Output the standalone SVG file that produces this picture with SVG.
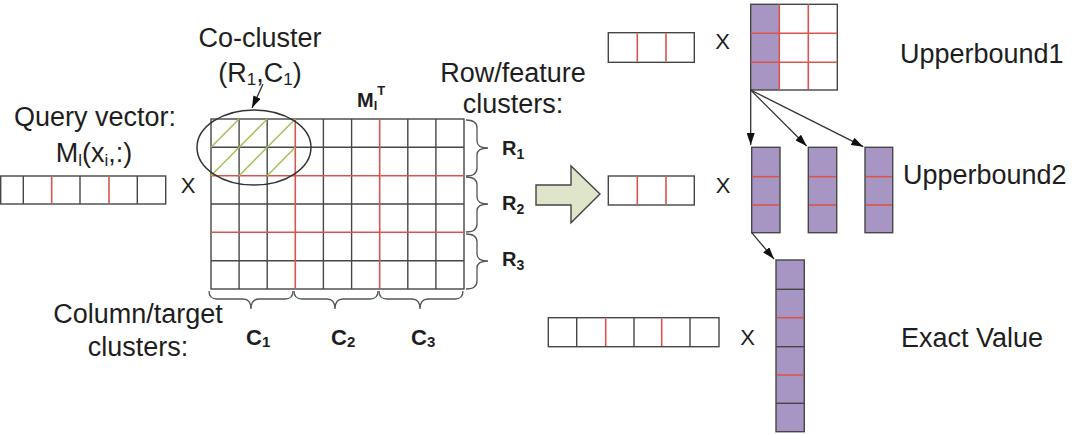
<svg xmlns="http://www.w3.org/2000/svg" width="1077" height="434" viewBox="0 0 1077 434">
<style>
text{font-family:"Liberation Sans",Arial,sans-serif;fill:#1e1e1e}
.lbl{font-size:27px}
.x{font-size:22px}
.b{font-weight:bold}
.g{stroke:#464646;stroke-width:1.4;fill:none}
.r{stroke:#d9554c;stroke-width:1.6;fill:none}
.gr{stroke:#a6c25c;stroke-width:1.6}
.br{stroke:#555;stroke-width:1.3;fill:none}
.pur{fill:#a796c4}
.cn{stroke:#333;stroke-width:1.3;fill:none}
</style>
<defs>
<marker id="ah" viewBox="0 0 12 8" refX="12" refY="4" markerWidth="12" markerHeight="8" markerUnits="userSpaceOnUse" orient="auto">
<path d="M0,0 L12,4 L0,8 z" fill="#111"/>
</marker>
</defs>

<g id="labels-left">
<text class="lbl" x="95" y="126" text-anchor="middle">Query vector:</text>
<text class="lbl" x="94" y="162" text-anchor="middle">M<tspan font-size="17" dy="4">l</tspan><tspan dy="-4">(x</tspan><tspan font-size="17" dy="4">i</tspan><tspan dy="-4">,:)</tspan></text>
<text class="lbl" x="260" y="47" text-anchor="middle">Co-cluster</text>
<text class="lbl" x="260" y="82" text-anchor="middle">(R<tspan font-size="17" dy="3">1</tspan><tspan dy="-3">,C</tspan><tspan font-size="17" dy="3">1</tspan><tspan dy="-3">)</tspan></text>
<text class="lbl" x="513" y="82" text-anchor="middle">Row/feature</text>
<text class="lbl" x="513" y="113" text-anchor="middle">clusters:</text>
<text class="lbl" x="138" y="323" text-anchor="middle">Column/target</text>
<text class="lbl" x="138" y="356" text-anchor="middle">clusters:</text>
<text class="b" font-size="20" x="357" y="107">M<tspan font-size="13" dy="3">l</tspan><tspan font-size="13" dy="-15">T</tspan></text>
</g>

<g id="query-vector">
<rect class="g" x="0.7" y="176" width="165" height="28"/>
<line class="g" x1="23.3" y1="176" x2="23.3" y2="204"/>
<line class="g" x1="80" y1="176" x2="80" y2="204"/>
<line class="g" x1="137.3" y1="176" x2="137.3" y2="204"/>
<line class="r" x1="51.7" y1="177" x2="51.7" y2="203"/>
<line class="r" x1="109" y1="177" x2="109" y2="203"/>
<text class="x" x="188" y="193" text-anchor="middle">X</text>
</g>

<g id="matrix">
<g class="g">
<rect x="211" y="119" width="253" height="170"/>
<line x1="239.1" y1="119" x2="239.1" y2="289"/>
<line x1="267.2" y1="119" x2="267.2" y2="289"/>
<line x1="323.4" y1="119" x2="323.4" y2="289"/>
<line x1="351.6" y1="119" x2="351.6" y2="289"/>
<line x1="407.8" y1="119" x2="407.8" y2="289"/>
<line x1="435.9" y1="119" x2="435.9" y2="289"/>
<line x1="211" y1="147.3" x2="464" y2="147.3"/>
<line x1="211" y1="204" x2="464" y2="204"/>
<line x1="211" y1="260.7" x2="464" y2="260.7"/>
</g>
<g class="r">
<line x1="295.3" y1="119" x2="295.3" y2="289"/>
<line x1="379.7" y1="119" x2="379.7" y2="289"/>
<line x1="211" y1="175.7" x2="464" y2="175.7"/>
<line x1="211" y1="232.3" x2="464" y2="232.3"/>
</g>
<g class="gr">
<line x1="211" y1="147.3" x2="239.1" y2="119"/>
<line x1="239.1" y1="147.3" x2="267.2" y2="119"/>
<line x1="267.2" y1="147.3" x2="295.3" y2="119"/>
<line x1="211" y1="175.7" x2="239.1" y2="147.3"/>
<line x1="239.1" y1="175.7" x2="267.2" y2="147.3"/>
<line x1="267.2" y1="175.7" x2="295.3" y2="147.3"/>
</g>
<ellipse cx="254" cy="147.5" rx="57" ry="37.5" fill="none" stroke="#333" stroke-width="1.5"/>
</g>

<g id="row-braces">
<path class="br" d="M466,120 Q477,120 477,128 L477,141 Q477,148 488,148 Q477,148 477,155 L477,168 Q477,176 466,176"/>
<path class="br" d="M466,177 Q477,177 477,185 L477,197 Q477,204 488,204 Q477,204 477,211 L477,224 Q477,232 466,232"/>
<path class="br" d="M466,234 Q477,234 477,242 L477,254 Q477,261 488,261 Q477,261 477,268 L477,281 Q477,289 466,289"/>
<text class="b" font-size="20" x="502" y="155">R<tspan font-size="14" dy="4">1</tspan></text>
<text class="b" font-size="20" x="502" y="210">R<tspan font-size="14" dy="4">2</tspan></text>
<text class="b" font-size="20" x="502" y="266">R<tspan font-size="14" dy="4">3</tspan></text>
</g>

<g id="col-braces">
<path class="br" d="M209,291 Q209,299 217,299 L243,299 Q251,299 251,309 Q251,299 259,299 L285,299 Q293,299 293,291"/>
<path class="br" d="M294,291 Q294,299 302,299 L327,299 Q335,299 335,309 Q335,299 343,299 L370,299 Q378,299 378,291"/>
<path class="br" d="M379,291 Q379,299 387,299 L412,299 Q420,299 420,309 Q420,299 428,299 L455,299 Q463,299 463,291"/>
<text class="b" font-size="22" x="246" y="345">C<tspan font-size="15" dy="2">1</tspan></text>
<text class="b" font-size="22" x="331" y="345">C<tspan font-size="15" dy="2">2</tspan></text>
<text class="b" font-size="22" x="411" y="345">C<tspan font-size="15" dy="2">3</tspan></text>
</g>

<g id="big-arrow">
<path d="M536,185 L571,185 L571,166 L600,194 L571,222.7 L571,205 L536,205 z" fill="#dfe5cb" stroke="#444" stroke-width="1.4" stroke-linejoin="miter"/>
</g>

<g id="top-vector">
<rect class="g" x="608.3" y="32.7" width="86" height="29.6"/>
<line class="r" x1="637.3" y1="33.5" x2="637.3" y2="61.5"/>
<line class="r" x1="666" y1="33.5" x2="666" y2="61.5"/>
<text class="x" x="722.5" y="49" text-anchor="middle">X</text>
</g>

<g id="upperbound1-matrix">
<rect class="pur" x="750.7" y="4.3" width="28.6" height="85.7"/>
<rect class="g" x="750.7" y="4.3" width="86.6" height="85.7"/>
<line class="r" x1="779.3" y1="4.3" x2="779.3" y2="90"/>
<line class="r" x1="808.3" y1="4.3" x2="808.3" y2="90"/>
<line class="r" x1="750.7" y1="33.3" x2="837.3" y2="33.3"/>
<line class="r" x1="750.7" y1="62.3" x2="837.3" y2="62.3"/>
<text class="lbl" x="900" y="63">Upperbound1</text>
</g>

<g id="mid-vector">
<rect class="g" x="608.3" y="176" width="86" height="29"/>
<line class="r" x1="637.3" y1="177" x2="637.3" y2="204"/>
<line class="r" x1="666" y1="177" x2="666" y2="204"/>
<text class="x" x="723" y="193" text-anchor="middle">X</text>
</g>

<g id="upperbound2-cols">
<rect class="g" x="751.7" y="147.3" width="28.3" height="85.4" style="fill:#a796c4"/>
<line class="r" x1="752.5" y1="176.7" x2="779.2" y2="176.7"/>
<line class="r" x1="752.5" y1="205" x2="779.2" y2="205"/>
<rect class="g" x="808.3" y="147.3" width="28.4" height="85.4" style="fill:#a796c4"/>
<line class="r" x1="809.1" y1="176.7" x2="835.9" y2="176.7"/>
<line class="r" x1="809.1" y1="205" x2="835.9" y2="205"/>
<rect class="g" x="865" y="147.3" width="27.7" height="85.4" style="fill:#a796c4"/>
<line class="r" x1="865.8" y1="176.7" x2="891.9" y2="176.7"/>
<line class="r" x1="865.8" y1="205" x2="891.9" y2="205"/>
<text class="lbl" x="903" y="184">Upperbound2</text>
</g>

<g id="bottom-vector">
<rect class="g" x="548.3" y="317.7" width="170.7" height="29"/>
<line class="g" x1="576.7" y1="317.7" x2="576.7" y2="346.7"/>
<line class="g" x1="634" y1="317.7" x2="634" y2="346.7"/>
<line class="g" x1="690" y1="317.7" x2="690" y2="346.7"/>
<line class="r" x1="605.7" y1="318.5" x2="605.7" y2="346"/>
<line class="r" x1="661.7" y1="318.5" x2="661.7" y2="346"/>
<text class="x" x="747.5" y="345" text-anchor="middle">X</text>
</g>

<g id="exact-column">
<rect class="g" x="776" y="260" width="28.3" height="171.7" style="fill:#a796c4"/>
<line class="g" x1="776" y1="289.3" x2="804.3" y2="289.3"/>
<line class="g" x1="776" y1="346.7" x2="804.3" y2="346.7"/>
<line class="g" x1="776" y1="403.3" x2="804.3" y2="403.3"/>
<line class="r" x1="776.8" y1="317.7" x2="803.5" y2="317.7"/>
<line class="r" x1="776.8" y1="375" x2="803.5" y2="375"/>
<text class="lbl" x="901" y="347">Exact Value</text>
</g>

<g id="connectors">
<line class="cn" x1="263" y1="84" x2="252" y2="108" marker-end="url(#ah)"/>
<line class="cn" x1="750.7" y1="90" x2="750.7" y2="145" marker-end="url(#ah)"/>
<line class="cn" x1="750.7" y1="90" x2="806.7" y2="146" marker-end="url(#ah)"/>
<line class="cn" x1="750.7" y1="90" x2="863.3" y2="146.7" marker-end="url(#ah)"/>
<line class="cn" x1="751.7" y1="232.7" x2="774" y2="259" marker-end="url(#ah)"/>
</g>
</svg>
